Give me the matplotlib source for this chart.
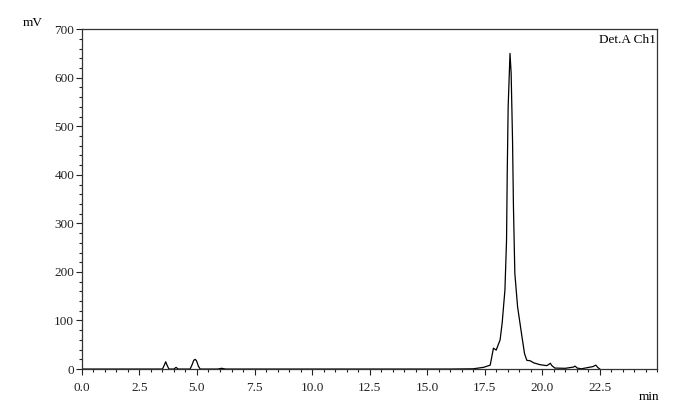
import matplotlib
matplotlib.use("Agg")
import matplotlib.pyplot as plt
from matplotlib.ticker import MultipleLocator, FormatStrFormatter

# retention time (min) and detector signal (mV)
time_min = [0.0, 3.50, 3.58, 3.64, 3.70, 3.78, 4.00, 4.09, 4.18,
            4.70, 4.78, 4.86, 4.92, 4.98, 5.06, 5.14, 5.90, 6.07, 6.25,
            16.0, 17.0, 17.45, 17.74, 17.88, 18.00, 18.17, 18.26, 18.38,
            18.45, 18.48, 18.52, 18.60, 18.65, 18.71, 18.75, 18.81, 18.93,
            19.10, 19.23, 19.33, 19.48, 19.62, 19.90, 20.20, 20.30, 20.35,
            20.42, 20.55, 21.00, 21.35, 21.43, 21.52, 21.70, 22.20, 22.33,
            22.42, 22.50]
signal_mv = [0.0, 0.0, 8.0, 15.0, 8.0, 0.0, 0.0, 3.5, 0.0,
             0.0, 8.0, 18.0, 20.0, 17.0, 6.0, 0.0, 0.0, 1.5, 0.0,
             0.0, 0.5, 3.5, 8.0, 43.0, 39.0, 60.0, 95.0, 163.0,
             266.0, 403.0, 540.0, 650.0, 609.0, 472.0, 334.0, 197.0, 128.0,
             73.0, 32.0, 18.0, 17.0, 13.0, 9.0, 7.0, 10.0, 12.0,
             7.0, 2.0, 1.5, 4.0, 6.0, 2.0, 0.5, 5.0, 8.0,
             3.0, 0.0]

x_ticks = [0.0, 2.5, 5.0, 7.5, 10.0, 12.5, 15.0, 17.5, 20.0, 22.5]
y_ticks = [0, 100, 200, 300, 400, 500, 600, 700]

plt.rcParams["font.family"] = ["Liberation Serif", "DejaVu Serif"]

fig = plt.figure(figsize=(7.0, 4.17), dpi=100)
ax = fig.add_axes([0.117, 0.115, 0.822, 0.815])

ax.plot(time_min, signal_mv, color="black", linewidth=0.9)

ax.set_xlim(0, 25)
ax.set_ylim(0, 700)
ax.set_xticks(x_ticks)
ax.set_yticks(y_ticks)
ax.xaxis.set_major_formatter(FormatStrFormatter("%.1f"))
ax.xaxis.set_minor_locator(MultipleLocator(0.5))
ax.yaxis.set_minor_locator(MultipleLocator(20))

ax.tick_params(axis="both", which="major", labelsize=9.5, width=0.8, length=4.5,
               direction="out", colors="#222222")
ax.tick_params(axis="both", which="minor", width=0.8, length=2.5,
               direction="out", colors="#222222")
ax.tick_params(axis="x", pad=5)
ax.tick_params(axis="y", pad=1)

for side in ax.spines.values():
    side.set_linewidth(0.9)
    side.set_color("#333333")

fig.text(33 / 700, 1 - 23 / 417, "mV", fontsize=9.5, ha="center", va="center")
fig.text(649 / 700, 1 - 397 / 417, "min", fontsize=9.5, ha="center", va="center")
ax.text(0.997, 0.985, "Det.A Ch1", transform=ax.transAxes, fontsize=9.5,
        ha="right", va="top")

fig.savefig("out.png", dpi=100, facecolor="white")
